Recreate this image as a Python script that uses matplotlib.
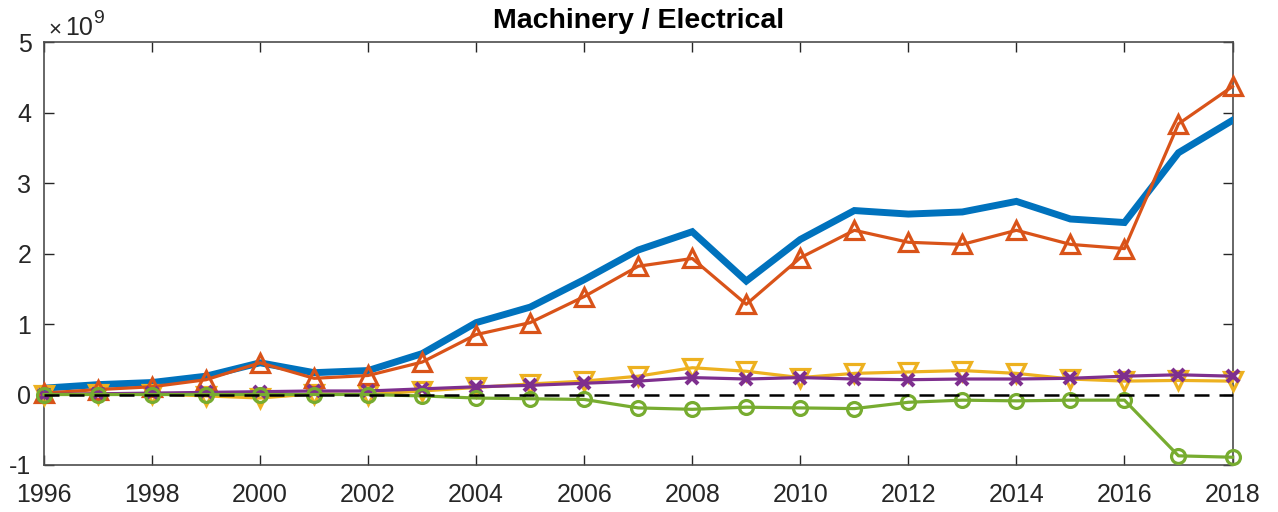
import numpy as np
import matplotlib
matplotlib.use('Agg')
import matplotlib.pyplot as plt
from matplotlib.ticker import FuncFormatter

plt.rcParams['font.family'] = ['Liberation Sans', 'DejaVu Sans']
plt.rcParams['axes.unicode_minus'] = False

years = list(range(1996, 2019))
# valores em unidades de 1e9
total = [0.09, 0.14, 0.17, 0.26, 0.45, 0.31, 0.34, 0.58, 1.02, 1.24, 1.63, 2.05, 2.31, 1.61, 2.2,
         2.61, 2.56, 2.59, 2.74, 2.49, 2.44, 3.43, 3.89]
laranja = [0.02, 0.07, 0.11, 0.21, 0.45, 0.23, 0.27, 0.46, 0.85, 1.02, 1.39, 1.82, 1.93, 1.28, 1.94,
           2.33, 2.16, 2.13, 2.33, 2.13, 2.07, 3.84, 4.37]
amarelo = [0.0, 0.01, 0.01, -0.02, -0.05, 0.01, 0.0, 0.05, 0.1, 0.15, 0.19, 0.26, 0.38, 0.33, 0.24,
           0.3, 0.32, 0.34, 0.3, 0.22, 0.19, 0.2, 0.19]
roxo = [0.0, 0.01, 0.02, 0.03, 0.04, 0.05, 0.05, 0.08, 0.11, 0.13, 0.16, 0.19, 0.24, 0.22, 0.24,
        0.22, 0.21, 0.22, 0.22, 0.23, 0.26, 0.28, 0.26]
verde = [0.0, 0.0, 0.0, 0.0, 0.0, 0.0, 0.0, -0.02, -0.05, -0.06, -0.07, -0.19, -0.21, -0.18, -0.19,
         -0.2, -0.11, -0.08, -0.09, -0.08, -0.08, -0.87, -0.89]

esc = 1e9
fig = plt.figure(figsize=(12.78, 5.12), dpi=100)
ax = fig.add_axes([0.0344, 0.0918, 0.930, 0.826])

ax.plot(years, np.array(total) * esc, color='#0072BD', lw=5, solid_joinstyle='miter', zorder=3)
ax.plot(years, np.array(laranja) * esc, color='#D95319', lw=2.3, marker='^', ms=13,
        mfc='none', mew=2.3, zorder=4, clip_on=False)
ax.plot(years, np.array(amarelo) * esc, color='#EDB120', lw=2.3, marker='v', ms=13,
        mfc='none', mew=2.3, zorder=3, clip_on=False)
ax.plot(years, np.array(roxo) * esc, color='#7E2F8E', lw=2.3, marker='x', ms=8,
        mew=3, zorder=4, clip_on=False)
ax.plot(years, np.array(verde) * esc, color='#77AC30', lw=2.3, marker='o', ms=10,
        mfc='none', mew=2.3, zorder=5, clip_on=False)
ax.plot([1996, 2018], [0, 0], color='black', ls='--', lw=1.8, dashes=(6, 4), zorder=6)

ax.set_xlim(1996, 2018)
ax.set_ylim(-1e9, 5e9)
ax.set_xticks(range(1996, 2019, 2))
ax.set_yticks(np.arange(-1, 6) * esc)
ax.yaxis.set_major_formatter(FuncFormatter(lambda v, p: f'{v / esc:g}'))
# multiplicador estilo matlab (x10^9)
fig.text(48 / 1278, 0.9316, '\u00d7', fontsize=16, color='#262626', va='baseline')
fig.text(65 / 1278, 0.9316, '10', fontsize=18, color='#262626', va='baseline')
fig.text(93 / 1278, 0.955, '9', fontsize=14, color='#262626', va='baseline')

ax.tick_params(direction='in', length=7, width=1, colors='#262626', labelsize=18,
               top=True, right=True)
ax.tick_params(axis='x', pad=13)
ax.tick_params(axis='y', pad=9)
for s in ax.spines.values():
    s.set_color('#4d4d4d')
    s.set_linewidth(1.2)

ax.set_title('Machinery / Electrical', fontsize=20.5, fontweight='bold', pad=10)

fig.savefig('out.png', dpi=100)
